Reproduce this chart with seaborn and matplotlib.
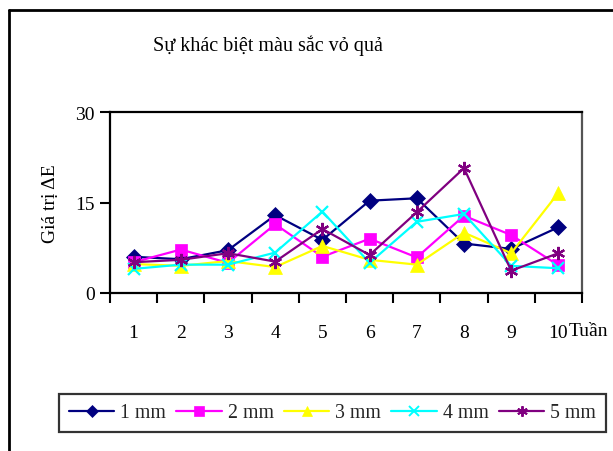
import matplotlib
matplotlib.use("Agg")
import matplotlib.pyplot as plt
from matplotlib.lines import Line2D
import seaborn as sns
import pandas as pd
import numpy as np

weeks = [1, 2, 3, 4, 5, 6, 7, 8, 9, 10]
s1mm = [6.0, 5.6, 7.1, 12.9, 8.8, 15.3, 15.7, 8.2, 7.3, 10.9]
s2mm = [5.1, 7.2, 5.0, 11.4, 6.0, 9.0, 5.9, 12.8, 9.6, 4.6]
s3mm = [4.8, 4.5, 5.3, 4.3, 7.8, 5.5, 4.7, 10.0, 6.6, 16.6]
s4mm = [4.0, 4.7, 4.7, 6.7, 13.5, 5.0, 11.8, 13.1, 4.5, 4.1]
s5mm = [5.1, 5.5, 6.6, 5.2, 10.6, 6.3, 13.4, 20.7, 3.7, 6.6]
series_names = ["1 mm", "2 mm", "3 mm", "4 mm", "5 mm"]
title = "Sự khác biệt màu sắc vỏ quả"
ylabel = "Giá trị ΔE"
xlabel = "Tuần"
yticks = [0, 15, 30]

colors = ["#000080", "#FF00FF", "#FFFF00", "#00FFFF", "#800080"]
markers = ["D", "s", "^", "x", (6, 2, 0)]
msizes = [8, 8.5, 9.5, 8.5, 9.5]

sns.set_theme(style="white")
plt.rcParams['font.family'] = ['Liberation Serif', 'DejaVu Serif']

frames = []
for name, vals in zip(series_names, [s1mm, s2mm, s3mm, s4mm, s5mm]):
    frames.append(pd.DataFrame({"week": weeks, "value": vals, "series": name}))
df = pd.concat(frames, ignore_index=True)

fig = plt.figure(figsize=(6.13, 4.52), dpi=100)
fig.patch.set_facecolor("white")
W, H = 613, 452
ax = fig.add_axes([110 / W, 1 - 294 / H, (582 - 110) / W, (294 - 113) / H])

for i, name in enumerate(series_names):
    sub = df[df["series"] == name]
    sns.lineplot(data=sub, x="week", y="value", ax=ax, color=colors[i],
                 marker=markers[i], markersize=msizes[i], linewidth=1.6,
                 markeredgecolor=colors[i], markeredgewidth=1.6 if i >= 3 else 0.5,
                 label=name, legend=False)

ax.set_xlim(0.5, 10.5)
ax.set_ylim(0, 30)
ax.set_xticks(np.arange(0.5, 11, 1.0))
ax.set_xticklabels([])
ax.set_xticks(weeks, minor=True)
ax.set_xticklabels([str(w) for w in weeks], minor=True)
ax.set_yticks(yticks)
ax.set_yticklabels([str(t) for t in yticks])
ax.tick_params(axis="x", which="major", direction="out", length=7, width=1.5, color="black", bottom=True)
ax.tick_params(axis="x", which="minor", length=0, labelsize=14, pad=22, colors="black")
ax.tick_params(axis="y", which="major", direction="out", length=7, width=1.5, color="black", labelsize=14, pad=4, left=True)
for lbl in ax.get_yticklabels():
    lbl.set_color("black")
ax.set_xlabel("")
ax.set_ylabel(ylabel, fontsize=14, color="black", labelpad=12)
for sp in ax.spines.values():
    sp.set_color("black")
    sp.set_linewidth(1.6)
ax.spines["right"].set_color("#555555")
ax.grid(False)

fig.text(569 / W, 1 - 332 / H, xlabel, fontsize=14, ha="left", va="center", color="black")

fig.text(268 / W, 1 - 46 / H, title, ha="center", va="center", fontsize=14.5, color="black")

# outer chart border (left and top visible)
fig.add_artist(Line2D([9 / W, 9 / W], [0, 1 - 11 / H], transform=fig.transFigure, color="black", linewidth=2))
fig.add_artist(Line2D([9 / W, 1.0], [1 - 11 / H, 1 - 11 / H], transform=fig.transFigure, color="black", linewidth=2))

handles = [Line2D([0], [0], color=colors[i], marker=markers[i], markersize=msizes[i] * 0.8,
                  linewidth=1.6, markeredgecolor=colors[i],
                  markeredgewidth=1.4 if i >= 3 else 0.5) for i in range(5)]
leg = fig.legend(handles, series_names, loc="center",
                 bbox_to_anchor=(332.5 / W, 1 - 414 / H), ncol=5, fontsize=14.3,
                 frameon=True, fancybox=False, edgecolor="black", handlelength=2.3,
                 handletextpad=0.3, columnspacing=0.5, borderpad=0.5, borderaxespad=0)
leg.get_frame().set_linewidth(1.6)

fig.savefig("out.png", dpi=100, facecolor="white")
